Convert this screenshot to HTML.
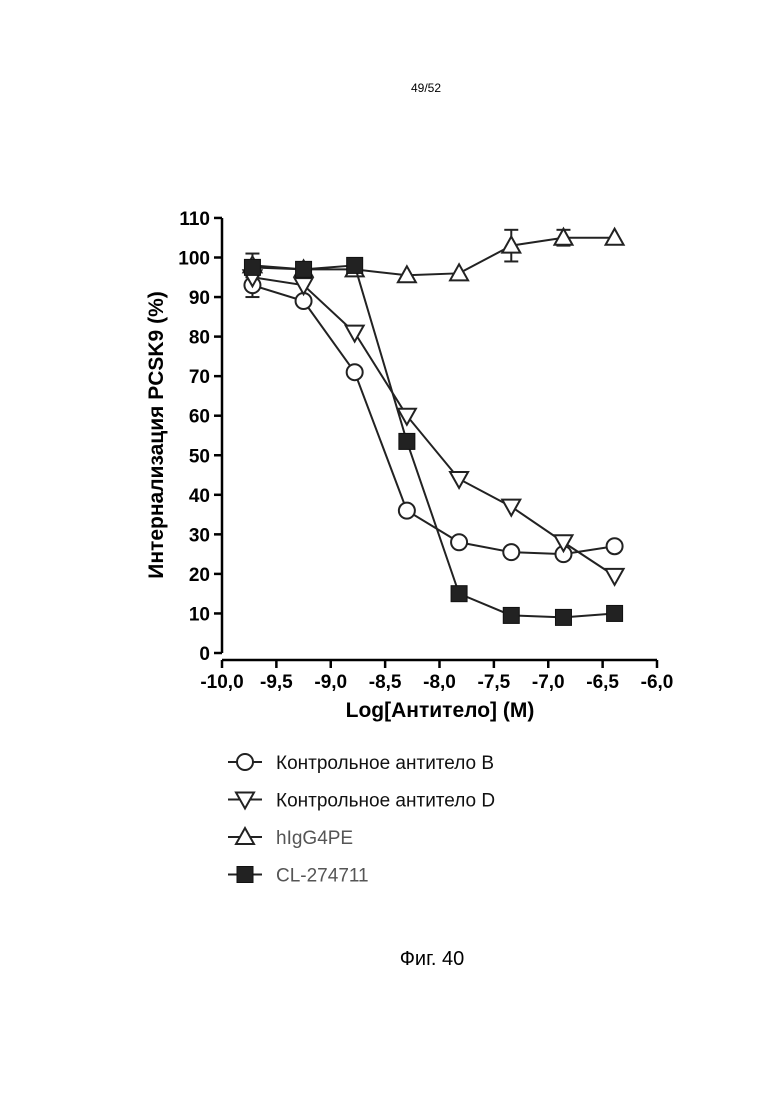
<!DOCTYPE html>
<html><head><meta charset="utf-8"><style>
body{margin:0;background:#fff;}
svg{display:block;font-family:"Liberation Sans",Arial,sans-serif;}
</style></head><body>
<svg id="c" width="780" height="1103" viewBox="0 0 780 1103">
<text x="426" y="92" font-size="12" text-anchor="middle">49/52</text>
<g id="axes"></g><g id="plot"></g>
<text transform="translate(163,435) rotate(-90)" font-size="21" font-weight="bold" text-anchor="middle">Интернализация PCSK9 (%)</text>
<text x="440" y="717" font-size="21" font-weight="bold" text-anchor="middle">Log[Антитело] (M)</text>
<g id="legend"></g>
<text x="432" y="965" font-size="20" text-anchor="middle">Фиг. 40</text>
</svg>
<script>
const xTicks=[-10,-9.5,-9,-8.5,-8,-7.5,-7,-6.5,-6];
const xTickLabels=["-10,0","-9,5","-9,0","-8,5","-8,0","-7,5","-7,0","-6,5","-6,0"];
const yTicks=[0,10,20,30,40,50,60,70,80,90,100,110];
const xVals=[-9.72,-9.25,-8.78,-8.30,-7.82,-7.34,-6.86,-6.39];
const seriesB=[93,89,71,36,28,25.5,25,27];
const seriesD=[95,93,81,60,44,37,28,19.5];
const seriesH=[98,97,97,95.5,96,103,105,105];
const errH=[3,1,1,0,0,4,2,0];
const errB=[3,0,0,0,0,0,0,0];
const seriesCL=[97.5,97,98,53.5,15,9.5,9,10];
const seriesNames=["Контрольное антитело B","Контрольное антитело D","hIgG4PE","CL-274711"];
const NS="http://www.w3.org/2000/svg";
const X=v=>222+(v+10)*108.75;
const Y=v=>653-v*3.955;
function mk(p,t,a){const e=document.createElementNS(NS,t);for(const k in a)e.setAttribute(k,a[k]);p.appendChild(e);return e;}
const ax=document.getElementById('axes'),pl=document.getElementById('plot'),lg=document.getElementById('legend');
let e=mk(ax,'line',{x1:222,y1:Y(110),x2:222,y2:653,stroke:'#000','stroke-width':2.5});

e=mk(ax,'line',{x1:222,y1:660,x2:X(-6),y2:660,stroke:'#000','stroke-width':2.5});

yTicks.forEach(v=>{mk(ax,'line',{x1:214,y1:Y(v),x2:222,y2:Y(v),stroke:'#000','stroke-width':2.5});
const t=mk(ax,'text',{x:210,y:Y(v)+7,'font-size':19,'font-weight':'bold','text-anchor':'end'});t.textContent=v;
});
xTicks.forEach((v,i)=>{mk(ax,'line',{x1:X(v),y1:660,x2:X(v),y2:668,stroke:'#000','stroke-width':2.5});
const t=mk(ax,'text',{x:X(v),y:688,'font-size':19,'font-weight':'bold','text-anchor':'middle'});t.textContent=xTickLabels[i];
});
function marker(g,type,x,y){
 if(type==='circle')return mk(g,'circle',{cx:x,cy:y,r:8,fill:'#fff',stroke:'#222','stroke-width':2});
 if(type==='down')return mk(g,'polygon',{points:`${x-9},${y-7} ${x+9},${y-7} ${x},${y+9}`,fill:'#fff',stroke:'#222','stroke-width':2});
 if(type==='up')return mk(g,'polygon',{points:`${x-9},${y+7} ${x+9},${y+7} ${x},${y-9}`,fill:'#fff',stroke:'#222','stroke-width':2});
 return mk(g,'rect',{x:x-8,y:y-8,width:16,height:16,fill:'#222',stroke:'#111','stroke-width':1});
}
function series(vals,type,name,errs){
 const g=mk(pl,'g',{});
 mk(g,'polyline',{points:vals.map((v,i)=>X(xVals[i])+','+Y(v)).join(' '),fill:'none',stroke:'#222','stroke-width':2});
 if(errs)vals.forEach((v,i)=>{if(errs[i]>0){const x=X(xVals[i]);
  mk(g,'line',{x1:x,y1:Y(v+errs[i]),x2:x,y2:Y(v-errs[i]),stroke:'#222','stroke-width':2});
  mk(g,'line',{x1:x-7,y1:Y(v+errs[i]),x2:x+7,y2:Y(v+errs[i]),stroke:'#222','stroke-width':2});
  mk(g,'line',{x1:x-7,y1:Y(v-errs[i]),x2:x+7,y2:Y(v-errs[i]),stroke:'#222','stroke-width':2});}});
 vals.forEach((v,i)=>{const m=marker(g,type,X(xVals[i]),Y(v));});
}
series(seriesH,'up','series-higg4pe',errH);
series(seriesB,'circle','series-control-b',errB);
series(seriesD,'down','series-control-d',null);
series(seriesCL,'square','series-cl-274711',null);
const types=['circle','down','up','square'];
seriesNames.forEach((n,i)=>{const y=762+i*37.5;
 const g=mk(lg,'g',{});
 mk(g,'line',{x1:228,y1:y,x2:262,y2:y,stroke:'#222','stroke-width':2});
 marker(g,types[i],245,y);
 const t=mk(g,'text',{x:276,y:y+7,'font-size':19,fill:i>=2?'#555':'#111'});t.textContent=n;});
</script>
</body></html>
